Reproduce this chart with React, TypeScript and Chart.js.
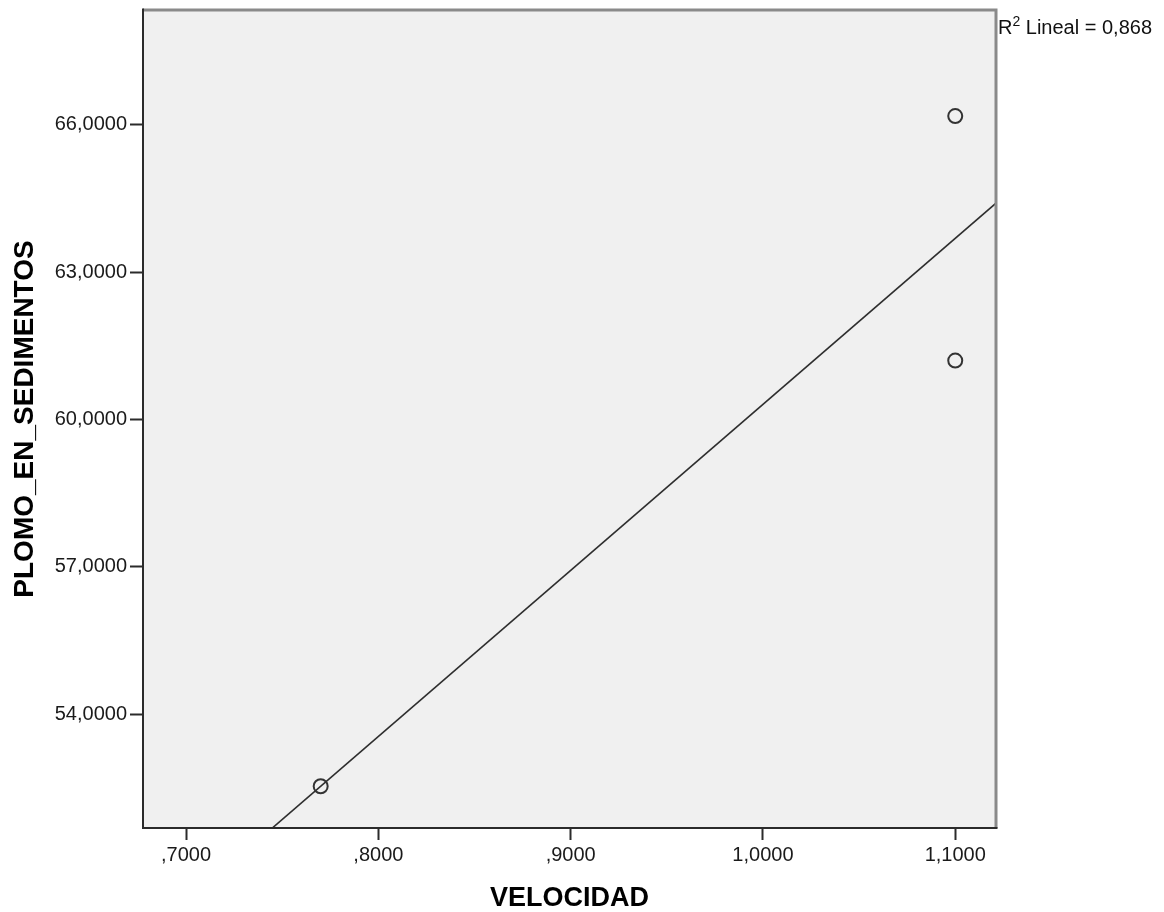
import { useEffect, useRef } from 'react';
import { Chart, registerables } from 'chart.js';

Chart.register(...registerables);

// ---- data ----
const velocidad = [0.77, 1.1, 1.1];
const plomo = [52.53, 66.18, 61.2];
const xTicks = [0.7, 0.8, 0.9, 1.0, 1.1];
const yTicks = [54, 57, 60, 63, 66];
const xRange = [0.6776, 1.1212];
const yRange = [51.68, 68.34];
const xTitle = 'VELOCIDAD';
const yTitle = 'PLOMO_EN_SEDIMENTOS';
const r2Label = ' Lineal = 0,868';

const FONT = '"Liberation Sans", Arial, Helvetica, sans-serif';

function fmt(v: number): string {
  let s = v.toFixed(4).replace('.', ',');
  if (s.startsWith('0,')) s = s.slice(1);
  return s;
}

function linearFit(xs: number[], ys: number[]) {
  const n = xs.length;
  const mx = xs.reduce((a, b) => a + b, 0) / n;
  const my = ys.reduce((a, b) => a + b, 0) / n;
  let sxy = 0;
  let sxx = 0;
  for (let i = 0; i < n; i++) {
    sxy += (xs[i] - mx) * (ys[i] - my);
    sxx += (xs[i] - mx) * (xs[i] - mx);
  }
  const b = sxy / sxx;
  const a = my - b * mx;
  return { a, b };
}

export default function App() {
  const ref = useRef<HTMLCanvasElement | null>(null);

  useEffect(() => {
    document.body.style.margin = '0';
    const canvas = ref.current;
    if (!canvas) return;
    const fit = linearFit(velocidad, plomo);
    const fitPts = xRange.map((x) => ({ x, y: fit.a + fit.b * x }));

    const framePlugin = {
      id: 'frame',
      beforeDatasetsDraw(chart: any) {
        const { ctx, chartArea: a } = chart;
        ctx.save();
        ctx.fillStyle = '#f0f0f0';
        ctx.fillRect(a.left, a.top, a.right - a.left, a.bottom - a.top);
        ctx.restore();
      },
      afterDatasetsDraw(chart: any) {
        const { ctx, chartArea: a } = chart;
        ctx.save();
        ctx.lineWidth = 3;
        ctx.strokeStyle = '#8a8a8a';
        ctx.beginPath();
        ctx.moveTo(a.left, a.top);
        ctx.lineTo(a.right, a.top);
        ctx.lineTo(a.right, a.bottom);
        ctx.stroke();
        ctx.lineWidth = 2;
        ctx.strokeStyle = '#2b2b2b';
        ctx.beginPath();
        ctx.moveTo(a.left, a.top - 1.5);
        ctx.lineTo(a.left, a.bottom);
        ctx.lineTo(a.right + 1.5, a.bottom);
        ctx.stroke();
        // R² label
        ctx.fillStyle = '#111';
        ctx.textBaseline = 'alphabetic';
        ctx.textAlign = 'left';
        const x0 = a.right + 2;
        const base = 34;
        ctx.font = `20px ${FONT}`;
        ctx.fillText('R', x0, base);
        const wR = ctx.measureText('R').width;
        ctx.font = `14px ${FONT}`;
        ctx.fillText('2', x0 + wR, base - 8);
        const w2 = ctx.measureText('2').width;
        ctx.font = `20px ${FONT}`;
        ctx.fillText(r2Label, x0 + wR + w2, base);
        ctx.restore();
      },
    };

    const chart = new Chart(canvas, {
      type: 'scatter',
      data: {
        datasets: [
          {
            type: 'line',
            data: fitPts,
            borderColor: '#2e2e2e',
            borderWidth: 1.6,
            pointRadius: 0,
            fill: false,
            order: 2,
          } as any,
          {
            data: velocidad.map((x, i) => ({ x, y: plomo[i] })),
            pointStyle: 'circle',
            pointRadius: 7,
            pointBorderWidth: 2,
            borderColor: '#333',
            backgroundColor: 'rgba(0,0,0,0)',
            order: 1,
          } as any,
        ],
      },
      options: {
        animation: false,
        responsive: false,
        maintainAspectRatio: false,
        layout: { padding: { top: 10, right: 168, left: 0, bottom: 0 } },
        plugins: {
          legend: { display: false },
          tooltip: { enabled: false },
        },
        scales: {
          x: {
            type: 'linear',
            min: xRange[0],
            max: xRange[1],
            afterBuildTicks: (s: any) => {
              s.ticks = xTicks.map((v) => ({ value: v }));
            },
            afterFit: (s: any) => {
              s.height = 84;
              s.paddingLeft = 0;
              s.paddingRight = 0;
            },
            border: { display: false },
            grid: {
              drawOnChartArea: false,
              drawTicks: true,
              tickLength: 12,
              tickColor: '#2b2b2b',
              tickWidth: 2,
            } as any,
            ticks: {
              color: '#1a1a1a',
              font: { family: FONT, size: 20 },
              padding: 3,
              maxRotation: 0,
              autoSkip: false,
              callback: (v: any) => fmt(Number(v)),
            },
            title: {
              display: true,
              text: xTitle,
              color: '#000',
              font: { family: FONT, size: 27, weight: 'bold', lineHeight: 1 },
              padding: { top: 0, bottom: 0 },
            },
          },
          y: {
            type: 'linear',
            min: yRange[0],
            max: yRange[1],
            afterBuildTicks: (s: any) => {
              s.ticks = yTicks.map((v) => ({ value: v }));
            },
            afterFit: (s: any) => {
              s.width = 143;
              s.paddingTop = 0;
              s.paddingBottom = 0;
            },
            border: { display: false },
            grid: {
              drawOnChartArea: false,
              drawTicks: true,
              tickLength: 13,
              tickColor: '#2b2b2b',
              tickWidth: 2,
            } as any,
            ticks: {
              color: '#1a1a1a',
              font: { family: FONT, size: 20 },
              padding: 3,
              autoSkip: false,
              callback: (v: any) => fmt(Number(v)),
            },
            title: {
              display: true,
              text: yTitle,
              color: '#000',
              font: { family: FONT, size: 28, weight: 'bold', lineHeight: 1 },
              padding: { top: 11, bottom: 0 },
            },
          },
        },
      },
      plugins: [framePlugin],
    });
    return () => chart.destroy();
  }, []);

  return (
    <div style={{ width: 1164, height: 912, background: '#fff' }}>
      <canvas ref={ref} width={1164} height={912} style={{ display: 'block' }} />
    </div>
  );
}
